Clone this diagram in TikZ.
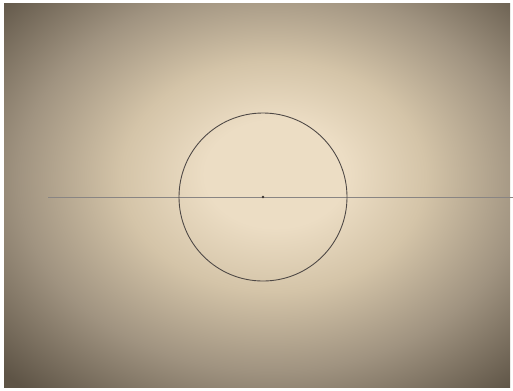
\documentclass[tikz,border=0pt]{standalone}
\definecolor{pcenter}{HTML}{ECDDC4}
\definecolor{pmid}{HTML}{D4C4A8}
\definecolor{pedge}{HTML}{A09380}
\definecolor{pcorner}{HTML}{5E5446}
\definecolor{pencil}{HTML}{3A3430}
\pgfdeclareradialshading{paper}{\pgfpoint{2bp}{3bp}}{%
  color(0bp)=(pcenter); color(7bp)=(pcenter); color(15bp)=(pmid);
  color(25bp)=(pedge); color(36bp)=(pcorner); color(80bp)=(pcorner)}
\begin{document}
\begin{tikzpicture}[x=0.02cm,y=-0.02cm]
    % Frame
    \useasboundingbox (0,0) rectangle (513,390);
    \fill[white] (0,0) rectangle (513,390);
    \shade[shading=paper] (4,3) rectangle (510,387);

    % Circle and axis
    \coordinate (O) at (263,197);
    \draw[pencil!60, line width=0.4pt] (48,197) -- (513,197);
    \draw[pencil!90, line width=0.5pt] (O) circle[radius=84];
    \fill[pencil] (O) circle[radius=1.3];
\end{tikzpicture}
\end{document}
